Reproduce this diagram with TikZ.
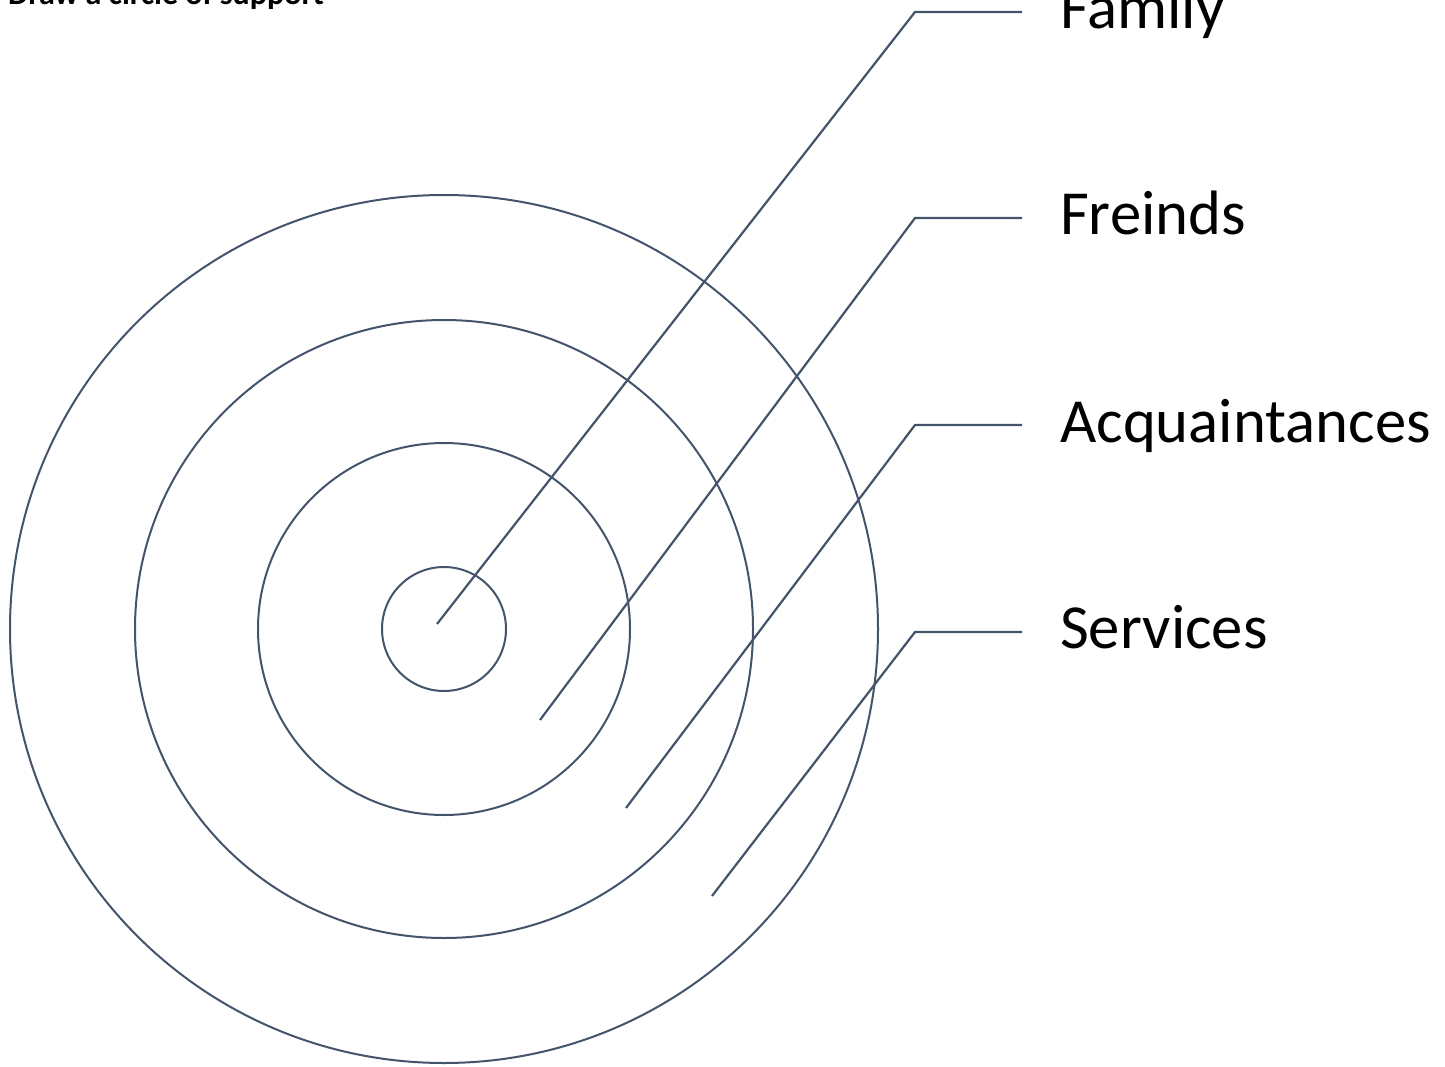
\documentclass[tikz,border=0pt]{standalone}
\usepackage{fontspec}
\setmainfont{Carlito}
\definecolor{slate}{HTML}{44546A}
\begin{document}
\begin{tikzpicture}[x=1pt,y=-1pt,
  ring/.style={draw=slate,line width=2pt},
  leader/.style={draw=slate,line width=2.2pt},
  lab/.style={anchor=base west,inner sep=0pt,font=\fontsize{62.7}{75}\selectfont},
  ttl/.style={anchor=base west,inner sep=0pt,font=\fontsize{32}{38}\selectfont\bfseries}]
\useasboundingbox (0,0) rectangle (1445,1067);
\clip (0,0) rectangle (1445,1067);
\fill[white] (0,0) rectangle (1445,1067);
\node[ttl] (title) at (8,5) {Draw a circle of support};
\coordinate (c) at (444,629);
\draw[ring] (c) circle[radius=62];
\draw[ring] (c) circle[radius=186];
\draw[ring] (c) circle[radius=309];
\draw[ring] (c) circle[radius=434];
% leaders
\coordinate (f0) at (437,624); \coordinate (f1) at (915,12); \coordinate (f2) at (1022,12);
\coordinate (r0) at (540,720); \coordinate (r1) at (915,218); \coordinate (r2) at (1022,218);
\coordinate (a0) at (626,808); \coordinate (a1) at (915,425); \coordinate (a2) at (1022,425);
\coordinate (s0) at (712,896); \coordinate (s1) at (915,632); \coordinate (s2) at (1022,632);
\draw[leader] (f0) -- (f1) -- (f2);
\draw[leader] (r0) -- (r1) -- (r2);
\draw[leader] (a0) -- (a1) -- (a2);
\draw[leader] (s0) -- (s1) -- (s2);
\node[lab] (family) at (1060,29) {Family};
\node[lab] (friends) at (1060,235) {Freinds};
\node[lab] (acq) at (1060,442) {Acquaintances};
\node[lab] (serv) at (1060,648) {Services};
\end{tikzpicture}
\end{document}
